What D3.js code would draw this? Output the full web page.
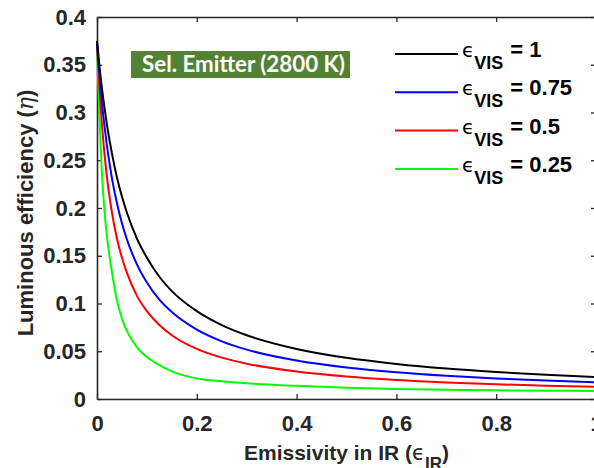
<!DOCTYPE html>
<html><head><meta charset="utf-8">
<script src="https://cdn.jsdelivr.net/npm/d3@7"></script>
<style>
html,body{margin:0;padding:0;background:#fff;overflow:hidden;}
svg{display:block;}
</style></head>
<body>
<svg id="chart" width="594" height="468"></svg>
<script>
// ---- data ----
const emissIR = [0, 0.0025, 0.005, 0.01, 0.015, 0.02, 0.03, 0.04, 0.05, 0.06, 0.08, 0.1, 0.125, 0.15, 0.2, 0.25, 0.3, 0.4, 0.5, 0.6, 0.7, 0.8, 0.9, 1.0];
const etaVis100 = [0.375, 0.362, 0.348, 0.325, 0.305, 0.287, 0.257, 0.232, 0.212, 0.195, 0.168, 0.148, 0.128, 0.113, 0.092, 0.0774, 0.0668, 0.0524, 0.0431, 0.0367, 0.0319, 0.0283, 0.0254, 0.0229];
const etaVis075 = [0.372, 0.356, 0.340, 0.310, 0.286, 0.265, 0.231, 0.205, 0.184, 0.167, 0.141, 0.122, 0.104, 0.091, 0.0726, 0.0604, 0.0517, 0.0403, 0.0330, 0.0280, 0.0243, 0.0215, 0.0193, 0.0175];
const etaVis050 = [0.372, 0.348, 0.325, 0.287, 0.257, 0.232, 0.195, 0.168, 0.148, 0.132, 0.108, 0.092, 0.0774, 0.0668, 0.0524, 0.0433, 0.0370, 0.0288, 0.0236, 0.0200, 0.0174, 0.0154, 0.0140, 0.0128];
const etaVis025 = [0.372, 0.330, 0.295, 0.235, 0.197, 0.170, 0.133, 0.103, 0.084, 0.071, 0.054, 0.044, 0.0355, 0.029, 0.0215, 0.0185, 0.0164, 0.0138, 0.0118, 0.0105, 0.0097, 0.0091, 0.0087, 0.0084];
const seriesValues = [etaVis100, etaVis075, etaVis050, etaVis025];
const seriesLabels = ["1", "0.75", "0.5", "0.25"];
const seriesColors = ["#000000", "#0000ff", "#ff0000", "#00ff00"];
const xTicks = [0, 0.2, 0.4, 0.6, 0.8, 1];
const yTicks = [0, 0.05, 0.1, 0.15, 0.2, 0.25, 0.3, 0.35, 0.4];
const titleText = "Sel. Emitter (2800 K)";

// ---- layout ----
const svg = d3.select("#chart");
const L = 97, R = 596, T = 17, B = 399;
const x = d3.scaleLinear().domain([0, 1]).range([L, R]);
const y = d3.scaleLinear().domain([0, 0.4]).range([B, T]);
const axisColor = "#262626";
const font = "'Liberation Sans', Arial, Helvetica, sans-serif";

function styleAxis(g) {
  g.selectAll(".domain").attr("stroke", axisColor).attr("stroke-width", 1.6);
  g.selectAll(".tick line").attr("stroke", axisColor).attr("stroke-width", 1.3);
  g.selectAll(".tick text").attr("fill", axisColor).attr("font-family", font)
    .attr("font-weight", "bold").attr("font-size", 22);
}

const fmt = d => d === 0 ? "0" : String(+d.toFixed(2));

svg.append("g").attr("transform", `translate(0,${B})`)
  .call(d3.axisBottom(x).tickValues(xTicks).tickFormat(fmt).tickSizeInner(-5).tickSizeOuter(0).tickPadding(16))
  .call(styleAxis);
svg.append("g").attr("transform", `translate(0,${T})`)
  .call(d3.axisTop(x).tickValues(xTicks).tickFormat("").tickSizeInner(-5).tickSizeOuter(0))
  .call(styleAxis);
svg.append("g").attr("transform", `translate(${L},0)`)
  .call(d3.axisLeft(y).tickValues(yTicks).tickFormat(fmt).tickSizeInner(-5).tickSizeOuter(0).tickPadding(11))
  .call(styleAxis);
svg.append("g").attr("transform", `translate(${R},0)`)
  .call(d3.axisRight(y).tickValues(yTicks).tickFormat("").tickSizeInner(-5).tickSizeOuter(0))
  .call(styleAxis);

// ---- curves ----
const line = d3.line().x(d => x(d[0])).y(d => y(d[1])).curve(d3.curveMonotoneX);
const plot = svg.append("g");
[3, 2, 1, 0].forEach(i => {
  plot.append("path")
    .datum(emissIR.map((e, j) => [e, seriesValues[i][j]]))
    .attr("fill", "none").attr("stroke", seriesColors[i]).attr("stroke-width", 2)
    .attr("d", line);
});

// ---- title box ----
svg.append("rect").attr("x", 131).attr("y", 51).attr("width", 219).attr("height", 27).attr("fill", "#548235");
svg.append("text").attr("x", 142).attr("y", 72).attr("fill", "#ffffff")
  .attr("font-family", "Lato, 'Open Sans', sans-serif").attr("font-weight", "bold").attr("font-size", 22)
  .attr("textLength", 203).attr("lengthAdjust", "spacingAndGlyphs").text(titleText);

// ---- legend ----
const legY = d3.scaleLinear().domain([0, 1]).range([54, 92.3]);
seriesLabels.forEach((lab, i) => {
  const ly = legY(i);
  svg.append("line").attr("x1", 395).attr("x2", 458).attr("y1", ly).attr("y2", ly)
    .attr("stroke", seriesColors[i]).attr("stroke-width", 2);
  const t = svg.append("text").attr("x", 462).attr("y", ly + 3).attr("fill", "#000")
    .attr("font-family", font).attr("font-size", 22);
  t.append("tspan").attr("font-family", "'DejaVu Sans', sans-serif").attr("font-size", 20).text("\u03F5");
  t.append("tspan").attr("dy", 12).attr("font-weight", "bold").attr("font-size", 18).text("VIS");
  t.append("tspan").attr("dy", -12).attr("dx", 7).attr("font-weight", "bold").text("= " + lab);
});

// ---- axis titles ----
const xt = svg.append("text").attr("x", (L + R) / 2).attr("y", 460).attr("text-anchor", "middle")
  .attr("fill", axisColor).attr("font-family", font).attr("font-weight", "bold").attr("font-size", 21);
xt.append("tspan").text("Emissivity in IR (");
xt.append("tspan").attr("font-weight", "normal").attr("font-family", "'DejaVu Sans', sans-serif").text("\u03F5");
xt.append("tspan").attr("dy", 9).attr("font-size", 17).text("IR");
xt.append("tspan").attr("dy", -9).text(")");

const yt = svg.append("text").attr("transform", `translate(33,${(T + B) / 2 + 5}) rotate(-90)`)
  .attr("text-anchor", "middle").attr("fill", axisColor).attr("font-family", font)
  .attr("font-weight", "bold").attr("font-size", 22);
yt.append("tspan").text("Luminous efficiency (");
yt.append("tspan").attr("font-weight", "normal").attr("font-style", "italic").attr("font-family", "'DejaVu Serif', serif").text("\u03B7");
yt.append("tspan").text(")");
</script>
</body></html>
